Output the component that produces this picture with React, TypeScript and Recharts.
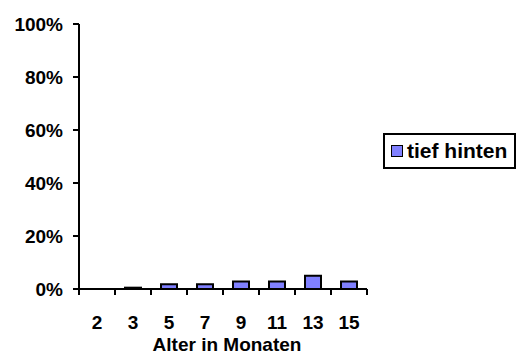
import React from "react";
import { BarChart, Bar, XAxis, YAxis } from "recharts";

// Age groups (months) and share of "tief hinten" per group, in percent
const months = ["2", "3", "5", "7", "9", "11", "13", "15"];
const tiefHinten = [0, 0.5, 1.8, 1.8, 2.8, 2.8, 5, 2.8];
const yTicks = [0, 20, 40, 60, 80, 100];
const seriesName = "tief hinten";

const data = months.map((m, i) => ({ month: m, value: tiefHinten[i] }));

const FONT = '"Liberation Sans", Arial, sans-serif';
const BAR_FILL = "#8080FF";

// Category tick: label centred in the band, tick marks on band boundaries
const MonthTick = (props: any) => {
  const { x, y, payload, index } = props;
  const half = payload && typeof payload.offset === "number" ? payload.offset : 18;
  const last = index === months.length - 1;
  return (
    <g>
      <line x1={x - half} x2={x - half} y1={y - 6} y2={y} stroke="#000" strokeWidth={2} />
      {last && (
        <line x1={x + half} x2={x + half} y1={y - 6} y2={y} stroke="#000" strokeWidth={2} />
      )}
      <text
        x={x}
        y={y + 34}
        textAnchor="middle"
        fontFamily={FONT}
        fontWeight="bold"
        fontSize={19}
        fill="#000"
      >
        {payload.value}
      </text>
    </g>
  );
};

export default function App() {
  return (
    <div style={{ position: "absolute", left: 0, top: 0, width: 518, height: 354, background: "#fff" }}>
      <BarChart
        width={518}
        height={354}
        data={data}
        margin={{ top: 24, right: 151, bottom: 0, left: 0 }}
        barSize={16}
      >
        <YAxis
          width={79}
          domain={[0, 100]}
          ticks={yTicks}
          interval={0}
          tickFormatter={(v: number) => `${v}%`}
          axisLine={{ stroke: "#000", strokeWidth: 2 }}
          tickLine={{ stroke: "#000", strokeWidth: 2 }}
          tickSize={6}
          tickMargin={10}
          tick={{ fill: "#000", fontFamily: FONT, fontWeight: "bold", fontSize: 19 }}
        />
        <XAxis
          dataKey="month"
          height={65}
          interval={0}
          tickLine={false}
          tickSize={6}
          tickMargin={0}
          axisLine={{ stroke: "#000", strokeWidth: 2 }}
          tick={<MonthTick />}
          label={{
            value: "Alter in Monaten",
            position: "insideBottom",
            offset: 3,
            dx: 4,
            fill: "#000",
            fontFamily: FONT,
            fontWeight: "bold",
            fontSize: 19,
          }}
        />
        <Bar
          dataKey="value"
          name={seriesName}
          fill={BAR_FILL}
          stroke="#000"
          strokeWidth={2}
          isAnimationActive={false}
        />
      </BarChart>
      <div
        style={{
          position: "absolute",
          left: 383,
          top: 133,
          width: 129,
          height: 32,
          border: "2px solid #000",
          display: "flex",
          alignItems: "center",
          fontFamily: FONT,
          fontWeight: "bold",
          fontSize: 21,
          color: "#000",
          background: "#fff",
          whiteSpace: "nowrap",
        }}
      >
        <span
          style={{
            display: "inline-block",
            width: 10,
            height: 10,
            marginLeft: 6,
            marginRight: 4,
            background: BAR_FILL,
            border: "1.5px solid #000",
          }}
        />
        <span>{seriesName}</span>
      </div>
    </div>
  );
}
